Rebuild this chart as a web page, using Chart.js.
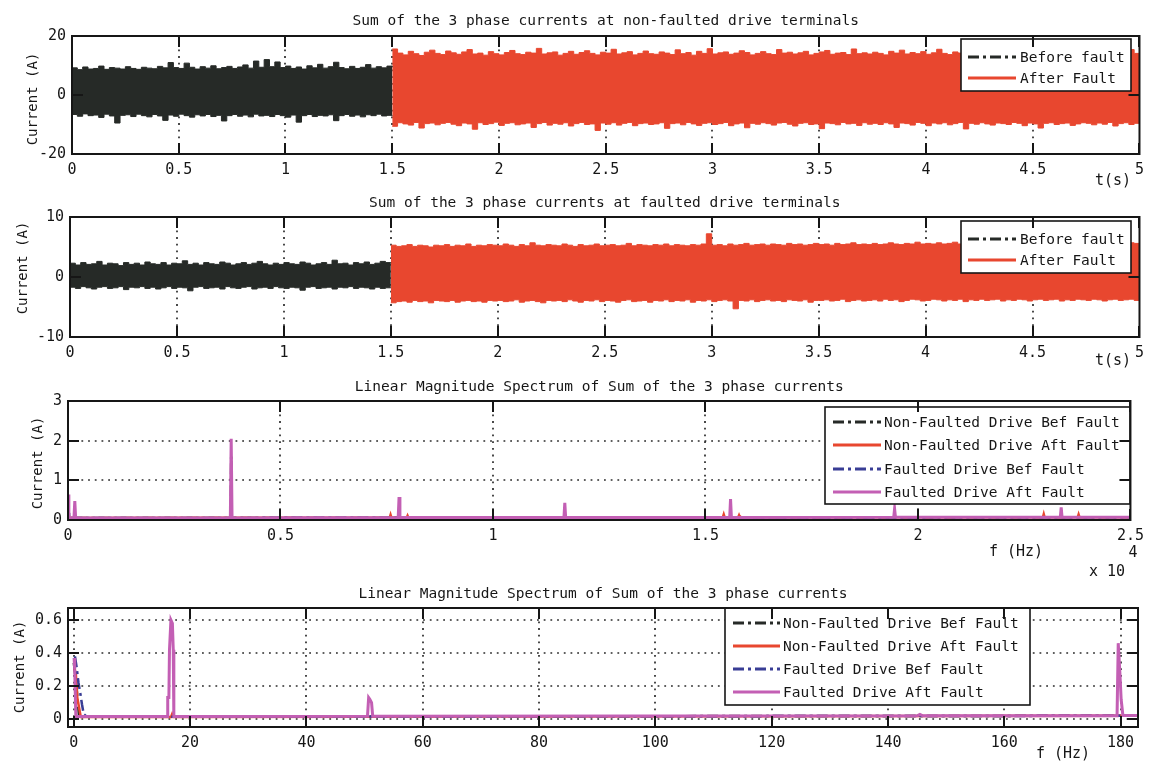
<!DOCTYPE html>
<html>
<head>
<meta charset="utf-8">
<title>Sum of the 3 phase currents</title>
<script src="https://cdn.jsdelivr.net/npm/chart.js@4.4.1/dist/chart.umd.min.js"></script>
<style>
  html, body { margin: 0; padding: 0; background: #ffffff; }
  #page { position: relative; width: 1151px; height: 763px; overflow: hidden; background: #ffffff; }
  #page canvas { position: absolute; left: 0; }
</style>
</head>
<body>
<div id="page">
  <canvas id="timeNonFaulted" width="1151" height="190" style="top:0px"></canvas>
  <canvas id="timeFaulted" width="1151" height="182" style="top:190px"></canvas>
  <canvas id="spectrumWide" width="1151" height="208" style="top:372px"></canvas>
  <canvas id="spectrumLow" width="1151" height="183" style="top:580px"></canvas>
</div>
<script>
// ---------------------------------------------------------------------------
// Data
// ---------------------------------------------------------------------------
const envelopeStep = 0.025;  // s between envelope samples of the current traces
const faultTime = 1.5;       // s, instant the fault is applied

const plotTitles = [
  'Sum of the 3 phase currents at non-faulted drive terminals',
  'Sum of the 3 phase currents at faulted drive terminals',
  'Linear Magnitude Spectrum of Sum of the 3 phase currents',
  'Linear Magnitude Spectrum of Sum of the 3 phase currents'
];
const yAxisTitle = 'Current (A)';
const timeAxisTitle = 't(s)';
const freqAxisTitle = 'f (Hz)';
const timeLegendLabels = ['Before fault', 'After Fault'];
const spectrumLegendLabels = [
  'Non-Faulted Drive Bef Fault',
  'Non-Faulted Drive Aft Fault',
  'Faulted Drive Bef Fault',
  'Faulted Drive Aft Fault'
];

// Non-faulted drive: upper / lower envelope of the summed current (A)
const nonFaultedBeforeUpper = [
  9.2, 8.6, 9.5, 8.8, 9.0, 9.8, 8.7, 9.3, 9.1, 8.8,
  9.6, 9.0, 8.7, 9.4, 9.1, 8.9, 9.7, 9.2, 11.0, 9.3,
  9.0, 10.8, 9.4, 8.8, 9.6, 9.1, 9.9, 8.9, 9.3, 9.7,
  9.0, 9.5, 10.2, 9.1, 11.5, 9.4, 12.0, 9.6, 11.2, 9.3,
  9.8, 9.0, 9.5, 8.8, 9.9, 9.2, 10.4, 9.1, 9.6, 11.1,
  9.3, 8.9, 9.7, 9.0, 9.4, 10.3, 9.1, 9.6, 9.2, 9.8,
  9.4];
const nonFaultedBeforeLower = [
  -6.6, -7.2, -6.4, -7.0, -6.8, -7.6, -6.5, -7.1, -9.5, -6.9,
  -6.7, -7.3, -6.5, -7.0, -7.4, -6.6, -7.1, -8.6, -6.8, -7.2,
  -6.5, -7.0, -7.5, -6.7, -7.1, -6.6, -7.3, -6.9, -8.8, -7.0,
  -6.6, -7.2, -6.8, -7.4, -6.5, -7.1, -6.9, -7.3, -6.6, -7.0,
  -7.5, -6.8, -9.2, -7.0, -6.6, -7.3, -6.9, -7.1, -6.7, -8.7,
  -7.0, -6.6, -7.2, -6.8, -7.4, -6.7, -7.0, -6.5, -7.1, -6.9,
  -7.0];
const nonFaultedAfterUpper = [
  15.6, 14.2, 13.6, 14.8, 14.0, 13.4, 14.5, 15.2, 14.1, 13.7,
  14.9, 14.3, 13.8, 14.6, 15.4, 13.9, 14.2, 13.5, 14.7, 14.0,
  13.6, 14.4, 15.1, 14.0, 13.7, 14.5, 14.2, 15.8, 13.9, 14.3,
  14.6, 13.5, 14.1, 14.8, 13.8, 14.4, 15.0, 14.1, 13.6, 14.5,
  14.2, 15.5, 13.9, 14.3, 14.7, 13.6, 14.1, 14.9, 14.0, 13.8,
  14.6, 14.2, 13.7, 15.3, 14.0, 14.4, 13.5, 14.8, 14.1, 15.7,
  13.9, 14.3, 14.6, 13.8, 14.2, 15.0, 14.4, 13.6, 14.1, 14.7,
  14.0, 13.7, 15.4, 14.2, 14.5, 13.9, 14.3, 14.8, 13.6, 14.1,
  14.6, 15.1, 13.8, 14.2, 14.4, 13.7, 15.6, 14.0, 14.3, 13.9,
  14.5, 14.1, 13.6, 14.8, 14.2, 15.2, 13.9, 14.4, 14.0, 14.7,
  13.8, 14.3, 15.5, 14.1, 13.7, 14.6, 14.2, 13.9, 15.0, 14.4,
  14.0, 14.7, 13.6, 14.3, 15.3, 14.1, 13.8, 14.5, 14.2, 14.9,
  13.7, 14.4, 14.1, 15.6, 13.9, 14.3, 14.6, 14.0, 13.8, 14.5,
  15.1, 14.2, 13.9, 14.4, 14.0, 14.8, 13.7, 14.3, 15.4, 14.1,
  14.2];
const nonFaultedAfterLower = [
  -10.6, -9.4, -9.8, -10.2, -9.3, -11.2, -9.7, -9.5, -10.1, -9.6,
  -9.3, -9.9, -10.4, -9.5, -9.8, -11.6, -9.4, -10.0, -9.7, -9.2,
  -10.3, -9.6, -9.4, -10.1, -9.8, -9.5, -11.0, -9.7, -9.3, -10.2,
  -9.6, -9.9, -9.4, -10.5, -9.7, -9.3, -10.0, -9.8, -12.0, -9.5,
  -9.9, -9.4, -10.2, -9.6, -9.3, -10.4, -9.7, -9.5, -10.0, -9.8,
  -9.4, -11.3, -9.7, -9.5, -10.1, -9.3, -9.8, -10.3, -9.6, -9.4,
  -10.0, -9.7, -9.3, -10.4, -9.8, -9.5, -11.1, -9.6, -9.9, -9.4,
  -9.7, -10.2, -9.5, -9.3, -9.9, -10.5, -9.6, -9.4, -10.0, -9.8,
  -11.4, -9.5, -9.7, -10.1, -9.3, -9.8, -9.6, -10.3, -9.4, -9.9,
  -9.6, -10.0, -9.4, -9.8, -11.0, -9.5, -9.7, -10.2, -9.3, -9.6,
  -10.4, -9.5, -9.8, -9.4, -10.1, -9.7, -9.3, -11.5, -9.6, -9.9,
  -9.4, -9.8, -10.2, -9.5, -9.7, -10.0, -9.3, -9.6, -10.4, -9.5,
  -9.8, -11.2, -9.6, -9.4, -10.0, -9.7, -9.5, -10.3, -9.8, -9.4,
  -9.6, -10.1, -9.5, -9.9, -9.3, -10.5, -9.7, -9.4, -10.0, -9.6,
  -9.8];

// Faulted drive: upper / lower envelope of the summed current (A)
const faultedBeforeUpper = [
  2.3, 2.0, 2.4, 2.1, 2.2, 2.6, 2.0, 2.3, 2.2, 1.9,
  2.4, 2.1, 2.3, 2.0, 2.5, 2.2, 2.1, 2.4, 2.0, 2.3,
  2.2, 2.7, 2.1, 2.3, 2.0, 2.4, 2.2, 2.1, 2.5, 2.3,
  2.0, 2.2, 2.4, 2.1, 2.3, 2.6, 2.2, 2.0, 2.3, 2.1,
  2.4, 2.2, 2.1, 2.5, 2.3, 2.0, 2.2, 2.4, 2.1, 2.8,
  2.2, 2.3, 2.0, 2.4, 2.2, 2.5, 2.1, 2.3, 2.6, 2.4,
  2.3];
const faultedBeforeLower = [
  -1.7, -1.9, -1.6, -1.8, -2.0, -1.7, -1.6, -1.9, -1.8, -1.6,
  -2.1, -1.7, -1.8, -1.6, -1.9, -1.7, -2.0, -1.8, -1.6, -1.9,
  -1.7, -1.8, -2.3, -1.7, -1.6, -1.9, -1.8, -1.7, -2.0, -1.6,
  -1.8, -1.9, -1.7, -1.6, -2.0, -1.8, -1.7, -1.9, -1.6, -1.8,
  -1.9, -1.7, -1.8, -2.2, -1.7, -1.6, -1.9, -1.8, -1.7, -2.0,
  -1.7, -1.8, -1.6, -1.9, -1.7, -1.8, -2.0, -1.7, -1.9, -1.8,
  -1.8];
const faultedAfterUpper = [
  5.3, 5.1, 5.2, 5.4, 5.1, 5.3, 5.2, 5.0, 5.3, 5.2,
  5.4, 5.1, 5.3, 5.2, 5.5, 5.1, 5.3, 5.2, 5.4, 5.3,
  5.2, 5.5, 5.3, 5.1, 5.4, 5.2, 5.7, 5.3, 5.2, 5.4,
  5.3, 5.2, 5.5, 5.3, 5.1, 5.4, 5.2, 5.3, 5.5, 5.2,
  5.3, 5.4, 5.2, 5.3, 5.6, 5.2, 5.4, 5.3, 5.2, 5.4,
  5.3, 5.5, 5.2, 5.4, 5.3, 5.2, 5.4, 5.3, 5.5, 7.2,
  5.3, 5.4, 5.2, 5.5, 5.3, 5.4, 5.6, 5.3, 5.4, 5.5,
  5.3, 5.5, 5.4, 5.3, 5.6, 5.4, 5.5, 5.3, 5.4, 5.6,
  5.4, 5.5, 5.3, 5.6, 5.4, 5.5, 5.7, 5.4, 5.5, 5.4,
  5.6, 5.4, 5.5, 5.7, 5.5, 5.4, 5.6, 5.5, 5.8, 5.5,
  5.6, 5.5, 5.7, 5.5, 5.6, 5.8, 5.5, 5.6, 5.7, 5.5,
  5.7, 5.6, 5.5, 5.8, 5.6, 5.7, 5.5, 5.6, 5.9, 5.6,
  5.7, 5.6, 5.8, 5.6, 5.7, 5.5, 5.8, 5.6, 5.7, 5.9,
  5.6, 5.7, 5.8, 5.6, 5.7, 5.9, 5.6, 5.8, 5.7, 5.6,
  5.7];
const faultedAfterLower = [
  -4.3, -4.1, -4.0, -4.2, -3.9, -4.1, -4.0, -4.3, -3.9, -4.0,
  -4.1, -3.9, -4.2, -4.0, -3.9, -4.1, -4.0, -4.2, -3.9, -4.0,
  -3.9, -4.1, -4.0, -3.8, -4.2, -4.0, -3.9, -4.1, -4.3, -3.9,
  -4.0, -3.9, -4.1, -3.8, -4.0, -4.2, -3.9, -4.0, -3.8, -4.1,
  -3.9, -4.0, -4.2, -3.9, -3.8, -4.1, -4.0, -3.9, -4.2, -3.9,
  -4.0, -3.8, -4.1, -3.9, -4.0, -3.8, -4.2, -3.9, -4.0, -3.8,
  -4.1, -3.9, -3.8, -4.0, -5.3, -3.9, -4.0, -3.8, -4.1, -3.9,
  -3.8, -4.0, -3.9, -4.1, -3.8, -3.9, -4.0, -3.8, -4.2, -3.9,
  -3.9, -3.8, -4.0, -3.9, -3.7, -4.1, -3.9, -3.8, -4.0, -3.9,
  -3.8, -4.0, -3.7, -3.9, -3.8, -4.1, -3.9, -3.7, -3.8, -4.0,
  -3.9, -3.7, -3.8, -4.0, -3.8, -3.9, -3.7, -4.1, -3.8, -3.9,
  -3.7, -3.9, -3.8, -3.7, -4.0, -3.8, -3.9, -3.7, -3.8, -4.0,
  -3.8, -3.7, -3.9, -3.8, -3.7, -4.0, -3.8, -3.9, -3.7, -3.8,
  -3.9, -3.7, -3.8, -4.0, -3.8, -3.7, -3.9, -3.8, -3.7, -3.9,
  -3.8];

// Full-band spectrum, frequency in units of 1e4 Hz, magnitude in A
const wideFreqNonFaultedBef = [0, 0.003, 0.383, 0.384, 0.385, 2.5];
const wideAmpNonFaultedBef  = [0.42, 0.05, 0.05, 1.6, 0.05, 0.07];
const wideFreqNonFaultedAft = [0, 0.003, 0.757, 0.759, 0.761, 0.797, 0.799, 0.801, 1.541, 1.543, 1.545,
  1.577, 1.579, 1.581, 2.294, 2.296, 2.298, 2.376, 2.378, 2.38, 2.5];
const wideAmpNonFaultedAft  = [0.3, 0.05, 0.06, 0.13, 0.06, 0.06, 0.11, 0.06, 0.07, 0.14, 0.07,
  0.07, 0.12, 0.07, 0.07, 0.15, 0.07, 0.07, 0.14, 0.07, 0.07];
const wideFreqFaultedBef = [0, 0.003, 2.5];
const wideAmpFaultedBef  = [0.55, 0.05, 0.07];
const wideFreqFaultedAft = [0, 0.002, 0.014, 0.016, 0.018, 0.382, 0.384, 0.386, 0.777, 0.779, 0.781,
  1.167, 1.169, 1.171, 1.557, 1.559, 1.561, 1.943, 1.945, 1.947, 2.335, 2.337, 2.339, 2.5];
const wideAmpFaultedAft  = [0.64, 0.05, 0.05, 0.48, 0.05, 0.05, 2.05, 0.05, 0.06, 0.58, 0.06,
  0.06, 0.43, 0.06, 0.06, 0.53, 0.06, 0.07, 0.28, 0.07, 0.07, 0.32, 0.07, 0.07];

// Low-frequency spectrum, frequency in Hz, magnitude in A
const lowFreqNonFaultedBef = [0, 0.4, 0.9, 183];
const lowAmpNonFaultedBef  = [0.34, 0.22, 0.015, 0.02];
const lowFreqNonFaultedAft = [0.1, 0.35, 0.6, 0.9, 1.2, 16.7, 16.9, 17.1, 183];
const lowAmpNonFaultedAft  = [0.31, 0.27, 0.13, 0.07, 0.012, 0.012, 0.03, 0.012, 0.02];
const lowFreqFaultedBef = [0.2, 0.5, 0.8, 1.1, 1.4, 1.7, 2.2, 183];
const lowAmpFaultedBef  = [0.38, 0.31, 0.22, 0.16, 0.09, 0.03, 0.014, 0.02];
const lowFreqFaultedAft = [0.05, 0.15, 0.35, 16.05, 16.15, 16.35, 16.45, 16.7, 16.95, 17.1, 17.2,
  50.5, 50.7, 50.9, 51.2, 51.4, 145, 145.5, 146, 179.4, 179.6, 179.9, 180.1, 180.4, 183];
const lowAmpFaultedAft  = [0.37, 0.3, 0.016, 0.016, 0.13, 0.13, 0.42, 0.6, 0.58, 0.42, 0.016,
  0.017, 0.13, 0.12, 0.1, 0.017, 0.02, 0.028, 0.02, 0.02, 0.46, 0.27, 0.12, 0.022, 0.022];

// ---------------------------------------------------------------------------
// Styling
// ---------------------------------------------------------------------------
const FONT = '"DejaVu Sans Mono", "Liberation Mono", monospace';
const INK = '#161616';
const COLORS = {
  black: '#262a27',
  red: '#e8472f',
  blue: '#393d95',
  magenta: '#c35fb4'
};
const DASH_DOT = [11, 4, 3, 4];

const toPoints = (xs, ys) => ys.map((v, i) => ({ x: xs[i], y: v }));
const envelope = (start, values) =>
  values.map((v, i) => ({ x: +(start + i * envelopeStep).toFixed(4), y: v }));
const tickText = v => String(Number(Number(v).toFixed(3)));

// A dense current trace shown as the band between its upper and lower envelope
function bandDatasets(label, upper, lower, start, color, legendDash) {
  return [
    { label, legendDash, data: envelope(start, upper), borderColor: color, backgroundColor: color,
      borderWidth: 1, fill: '+1', stepped: true, pointRadius: 0 },
    { data: envelope(start, lower), borderColor: color, backgroundColor: color,
      borderWidth: 1, fill: false, stepped: true, pointRadius: 0 }
  ];
}

function spectrumDataset(label, xs, ys, color, dashed, width, order) {
  return { label, legendDash: dashed, data: toPoints(xs, ys), borderColor: color,
    borderWidth: width, borderDash: dashed ? DASH_DOT : [], pointRadius: 0,
    tension: 0, fill: false, order };
}

// ---------------------------------------------------------------------------
// Boxed axes with inward ticks, dotted grid, titles and an inset legend
// ---------------------------------------------------------------------------
const boxedAxes = {
  id: 'boxedAxes',
  beforeDatasetsDraw(chart, args, o) {
    const { ctx, chartArea: a, scales: { x, y } } = chart;
    ctx.save();
    ctx.strokeStyle = '#2b2b2b';
    ctx.lineWidth = 1.7;
    ctx.setLineDash([1.8, 4.9]);
    ctx.beginPath();
    if (o.gridX) {
      x.ticks.forEach(t => {
        const px = Math.round(x.getPixelForValue(t.value));
        if (px > a.left + 2 && px < a.right - 2) { ctx.moveTo(px, a.top); ctx.lineTo(px, a.bottom); }
      });
    }
    if (o.gridY) {
      y.ticks.forEach(t => {
        const py = Math.round(y.getPixelForValue(t.value));
        if (py > a.top + 2 && py < a.bottom - 2) { ctx.moveTo(a.left, py); ctx.lineTo(a.right, py); }
      });
    }
    ctx.stroke();
    ctx.restore();
  },
  afterDraw(chart, args, o) {
    const { ctx, chartArea: a, scales: { x, y } } = chart;
    const off = o.canvasTop;
    const ds = chart.data.datasets.filter(d => d.label);
    ctx.save();

    // inset legend
    const lg = o.legend;
    ctx.fillStyle = '#ffffff';
    ctx.fillRect(lg.x, lg.y - off, lg.w, lg.h);
    ctx.strokeStyle = INK;
    ctx.lineWidth = 1.6;
    ctx.setLineDash([]);
    ctx.strokeRect(lg.x, lg.y - off, lg.w, lg.h);
    ctx.font = `14.5px ${FONT}`;
    ctx.textAlign = 'left';
    ctx.textBaseline = 'middle';
    ds.forEach((d, i) => {
      const yy = lg.rows[i] - off;
      ctx.strokeStyle = d.borderColor;
      ctx.lineWidth = 3;
      ctx.setLineDash(d.legendDash ? DASH_DOT : []);
      ctx.beginPath();
      ctx.moveTo(lg.lineX0, yy);
      ctx.lineTo(lg.lineX1, yy);
      ctx.stroke();
      ctx.setLineDash([]);
      ctx.fillStyle = INK;
      ctx.fillText(d.label, lg.textX, yy + 1);
    });

    // inward tick marks on all four sides
    const L = 11;
    ctx.strokeStyle = INK;
    ctx.lineWidth = 2;
    ctx.beginPath();
    x.ticks.forEach(t => {
      const px = Math.round(x.getPixelForValue(t.value));
      ctx.moveTo(px, a.bottom); ctx.lineTo(px, a.bottom - L);
      ctx.moveTo(px, a.top); ctx.lineTo(px, a.top + L);
    });
    y.ticks.forEach(t => {
      const py = Math.round(y.getPixelForValue(t.value));
      ctx.moveTo(a.left, py); ctx.lineTo(a.left + L, py);
      ctx.moveTo(a.right, py); ctx.lineTo(a.right - L, py);
    });
    ctx.stroke();

    // frame
    ctx.lineWidth = 2;
    ctx.strokeRect(a.left, a.top, a.right - a.left, a.bottom - a.top);

    // titles
    ctx.fillStyle = INK;
    ctx.textAlign = 'center';
    ctx.textBaseline = 'middle';
    ctx.font = `14.5px ${FONT}`;
    ctx.fillText(o.title, (a.left + a.right) / 2, o.titleY - off);
    ctx.font = `15px ${FONT}`;
    ctx.fillText(o.xTitle, o.xTitleX, o.xTitleY - off);
    ctx.save();
    ctx.font = `14px ${FONT}`;
    ctx.translate(o.yTitleX, o.yTitleY - off);
    ctx.rotate(-Math.PI / 2);
    ctx.fillText(o.yTitle, 0, 0);
    ctx.restore();
    if (o.exponent) {
      ctx.font = `15px ${FONT}`;
      ctx.fillText(o.exponent.base, o.exponent.x, o.exponent.y - off);
      ctx.fillText(o.exponent.power, o.exponent.px, o.exponent.py - off);
    }
    ctx.restore();
  }
};

function makeChart(id, cfg) {
  const canvas = document.getElementById(id);
  const H = canvas.height;
  const tickFont = { family: FONT, size: 15 };
  return new Chart(canvas, {
    type: 'line',
    data: { datasets: cfg.datasets },
    options: {
      responsive: false,
      animation: false,
      events: [],
      layout: { padding: { top: cfg.area.top, right: 1151 - cfg.area.right, left: 0, bottom: 0 } },
      plugins: {
        legend: { display: false },
        tooltip: { enabled: false },
        title: { display: false },
        boxedAxes: Object.assign({ canvasTop: cfg.canvasTop }, cfg.frame)
      },
      scales: {
        x: {
          type: 'linear', min: cfg.x.min, max: cfg.x.max,
          afterFit: s => { s.height = H - cfg.area.bottom; },
          grid: { display: false, drawTicks: false },
          border: { display: false },
          ticks: { stepSize: cfg.x.step, includeBounds: false, autoSkip: false, maxRotation: 0,
            padding: 7, font: tickFont, color: INK, callback: tickText }
        },
        y: {
          type: 'linear', min: cfg.y.min, max: cfg.y.max,
          afterFit: s => { s.width = cfg.area.left; },
          grid: { display: false, drawTicks: false },
          border: { display: false },
          ticks: { stepSize: cfg.y.step, includeBounds: false, autoSkip: false,
            padding: 6, font: tickFont, color: INK, callback: tickText }
        }
      }
    },
    plugins: [boxedAxes]
  });
}

// ---------------------------------------------------------------------------
// Charts
// ---------------------------------------------------------------------------
makeChart('timeNonFaulted', {
  canvasTop: 0,
  area: { left: 72, right: 1141, top: 36, bottom: 154 },
  x: { min: 0, max: 5, step: 0.5 },
  y: { min: -20, max: 20, step: 20 },
  datasets: [
    ...bandDatasets(timeLegendLabels[0], nonFaultedBeforeUpper, nonFaultedBeforeLower, 0, COLORS.black, true),
    ...bandDatasets(timeLegendLabels[1], nonFaultedAfterUpper, nonFaultedAfterLower, faultTime, COLORS.red, false)
  ],
  frame: {
    title: plotTitles[0], titleY: 21,
    yTitle: yAxisTitle, yTitleX: 33, yTitleY: 99,
    xTitle: timeAxisTitle, xTitleX: 1113, xTitleY: 181,
    gridX: true, gridY: false,
    legend: { x: 961, y: 39, w: 170, h: 52, rows: [57, 78], lineX0: 968, lineX1: 1016, textX: 1020 }
  }
});

makeChart('timeFaulted', {
  canvasTop: 190,
  area: { left: 70, right: 1141, top: 27, bottom: 147 },
  x: { min: 0, max: 5, step: 0.5 },
  y: { min: -10, max: 10, step: 10 },
  datasets: [
    ...bandDatasets(timeLegendLabels[0], faultedBeforeUpper, faultedBeforeLower, 0, COLORS.black, true),
    ...bandDatasets(timeLegendLabels[1], faultedAfterUpper, faultedAfterLower, faultTime, COLORS.red, false)
  ],
  frame: {
    title: plotTitles[1], titleY: 203,
    yTitle: yAxisTitle, yTitleX: 23, yTitleY: 268,
    xTitle: timeAxisTitle, xTitleX: 1113, xTitleY: 361,
    gridX: true, gridY: false,
    legend: { x: 961, y: 221, w: 170, h: 52, rows: [239, 260], lineX0: 968, lineX1: 1016, textX: 1020 }
  }
});

makeChart('spectrumWide', {
  canvasTop: 372,
  area: { left: 68, right: 1137, top: 29, bottom: 148 },
  x: { min: 0, max: 2.5, step: 0.5 },
  y: { min: 0, max: 3, step: 1 },
  datasets: [
    spectrumDataset(spectrumLegendLabels[0], wideFreqNonFaultedBef, wideAmpNonFaultedBef, COLORS.black, true, 2.5, 3),
    spectrumDataset(spectrumLegendLabels[1], wideFreqNonFaultedAft, wideAmpNonFaultedAft, COLORS.red, false, 2.5, 2),
    spectrumDataset(spectrumLegendLabels[2], wideFreqFaultedBef, wideAmpFaultedBef, COLORS.blue, true, 2.5, 1),
    spectrumDataset(spectrumLegendLabels[3], wideFreqFaultedAft, wideAmpFaultedAft, COLORS.magenta, false, 3, 0)
  ],
  frame: {
    title: plotTitles[2], titleY: 387,
    yTitle: yAxisTitle, yTitleX: 38, yTitleY: 463,
    xTitle: freqAxisTitle, xTitleX: 1016, xTitleY: 552,
    exponent: { base: 'x 10', x: 1107, y: 572, power: '4', px: 1133, py: 553 },
    gridX: true, gridY: true,
    legend: { x: 825, y: 407, w: 305, h: 97, rows: [422, 445, 469, 492], lineX0: 833, lineX1: 881, textX: 884 }
  }
});

makeChart('spectrumLow', {
  canvasTop: 580,
  area: { left: 68, right: 1138, top: 28, bottom: 147 },
  x: { min: -1, max: 183, step: 20 },
  y: { min: -0.048, max: 0.673, step: 0.2 },
  datasets: [
    spectrumDataset(spectrumLegendLabels[0], lowFreqNonFaultedBef, lowAmpNonFaultedBef, COLORS.black, true, 2.5, 3),
    spectrumDataset(spectrumLegendLabels[1], lowFreqNonFaultedAft, lowAmpNonFaultedAft, COLORS.red, false, 2.5, 2),
    spectrumDataset(spectrumLegendLabels[2], lowFreqFaultedBef, lowAmpFaultedBef, COLORS.blue, true, 2.5, 1),
    spectrumDataset(spectrumLegendLabels[3], lowFreqFaultedAft, lowAmpFaultedAft, COLORS.magenta, false, 3, 0)
  ],
  frame: {
    title: plotTitles[3], titleY: 594,
    yTitle: yAxisTitle, yTitleX: 20, yTitleY: 667,
    xTitle: freqAxisTitle, xTitleX: 1063, xTitleY: 754,
    gridX: true, gridY: true,
    legend: { x: 725, y: 608, w: 305, h: 97, rows: [623, 646, 669, 692], lineX0: 733, lineX1: 780, textX: 783 }
  }
});
</script>
</body>
</html>
